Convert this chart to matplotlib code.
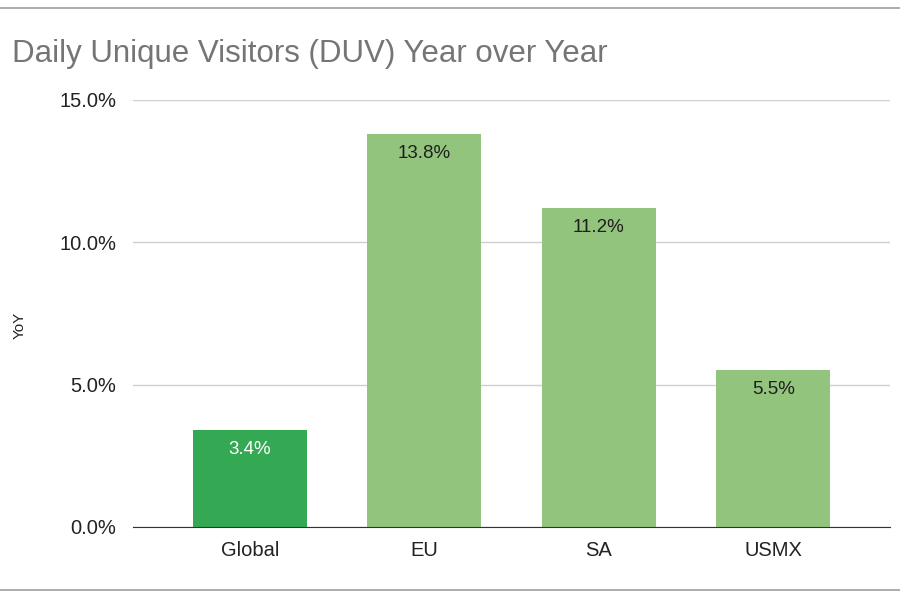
import matplotlib.pyplot as plt
from matplotlib.lines import Line2D
from matplotlib.ticker import FuncFormatter

plt.rcParams['font.family'] = ['Liberation Sans', 'DejaVu Sans']

regions = ['Global', 'EU', 'SA', 'USMX']
yoy = [3.4, 13.8, 11.2, 5.5]
bar_colors = ['#34a853', '#93c47d', '#93c47d', '#93c47d']
label_colors = ['white', '#1f1f1f', '#1f1f1f', '#1f1f1f']
y_ticks = [0, 5, 10, 15]

fig = plt.figure(figsize=(9, 6), dpi=100)
ax = fig.add_axes([0.1478, 0.1217, 0.8411, 0.7117])

x = range(len(regions))
ax.bar(x, yoy, width=0.655, color=bar_colors, zorder=3)

for i, v in enumerate(yoy):
    ax.annotate(f'{v:.1f}%', (i, v), xytext=(0, -14), textcoords='offset points',
                ha='center', va='center', fontsize=13.5, color=label_colors[i], zorder=4)

ax.set_xlim(-0.67, len(regions) - 1 + 0.67)
ax.set_ylim(0, 15)
ax.set_yticks(y_ticks)
ax.yaxis.set_major_formatter(FuncFormatter(lambda v, p: f'{v:.1f}%'))
ax.set_xticks(list(x))
ax.set_xticklabels(regions)
ax.tick_params(axis='both', length=0, labelsize=14.5, colors='#222222')
ax.tick_params(axis='y', pad=12)
ax.tick_params(axis='x', pad=10)
ax.grid(axis='y', color='#d0d0d0', linewidth=1, zorder=0)
for s in ['top', 'right', 'left']:
    ax.spines[s].set_visible(False)
ax.spines['bottom'].set_color('#333333')
ax.spines['bottom'].set_zorder(5)

fig.text(0.022, 0.458, 'YoY', rotation=90, ha='center', va='center', fontsize=11, color='#222222')
fig.text(0.013, 0.91, 'Daily Unique Visitors (DUV) Year over Year', ha='left', va='center',
         fontsize=22.5, color='#757575')

fig.add_artist(Line2D([0, 1], [1 - 8 / 600, 1 - 8 / 600], color='#9e9e9e', linewidth=1.2))
fig.add_artist(Line2D([0, 1], [1 - 590 / 600, 1 - 590 / 600], color='#9e9e9e', linewidth=1.2))

fig.savefig('out.png', dpi=100)
